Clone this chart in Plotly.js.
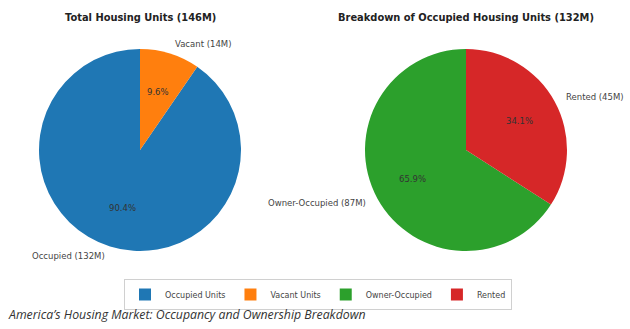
<!DOCTYPE html>
<html>
<head>
<meta charset="utf-8">
<script src="https://cdn.plot.ly/plotly-3.0.1.min.js"></script>
<style>html,body{margin:0;padding:0;background:#fff;}#chart{width:630px;height:329px;}</style>
</head>
<body>
<div id="chart"></div>
<script>
// Data
const totalTitle = "Total Housing Units (146M)";
const totalLegend = ["Occupied Units", "Vacant Units"];
const totalLabels = ["Occupied (132M)", "Vacant (14M)"];
const totalValues = [132, 14];
const totalColors = ["#1f77b4", "#ff7f0e"];

const occTitle = "Breakdown of Occupied Housing Units (132M)";
const occLegend = ["Owner-Occupied", "Rented"];
const occLabels = ["Owner-Occupied (87M)", "Rented (45M)"];
const occValues = [87, 45];
const occColors = ["#2ca02c", "#d62728"];

const caption = "America’s Housing Market: Occupancy and Ownership Breakdown";

// Layout geometry (pixels)
const W = 630, H = 329;
const R = 101;
const centers = [[140, 150], [466, 150]];

function px(x){ return x / W; }
function py(y){ return 1 - y / H; }

const traces = [];
const annotations = [];
const pies = [
  {legend: totalLegend, labels: totalLabels, values: totalValues, colors: totalColors, title: totalTitle},
  {legend: occLegend, labels: occLabels, values: occValues, colors: occColors, title: occTitle}
];

pies.forEach((p, i) => {
  const [cx, cy] = centers[i];
  const total = p.values.reduce((a, b) => a + b, 0);
  // Plotly's counterclockwise mode places the first slice clockwise of the
  // rotation angle; shift it so the first slice starts at 12 o'clock going
  // counterclockwise (like a start angle of 90 degrees).
  const rot = -(p.values[0] / total * 360);
  traces.push({
    type: "pie",
    labels: p.legend,
    values: p.values,
    marker: {colors: p.colors, line: {width: 0}},
    sort: false,
    direction: "counterclockwise",
    rotation: rot,
    textinfo: "none",
    hoverinfo: "label+percent",
    domain: {x: [px(cx - R), px(cx + R)], y: [py(cy + R), py(cy - R)]},
    showlegend: true
  });
  let start = 90;
  p.values.forEach((v, j) => {
    const span = v / total * 360;
    const mid = (start + span / 2) * Math.PI / 180;
    start += span;
    const c = Math.cos(mid), s = Math.sin(mid);
    annotations.push({
      xref: "paper", yref: "paper",
      x: px(cx + 1.1 * R * c), y: py(cy - 1.1 * R * s),
      text: p.labels[j], showarrow: false,
      xanchor: c >= 0 ? "left" : "right", yanchor: "middle",
      font: {family: "DejaVu Sans", size: 8.5, color: "#444"}
    });
    annotations.push({
      xref: "paper", yref: "paper",
      x: px(cx + 0.6 * R * c), y: py(cy - 0.6 * R * s),
      text: (v / total * 100).toFixed(1) + "%", showarrow: false,
      xanchor: "center", yanchor: "middle",
      font: {family: "DejaVu Sans", size: 8.5, color: "#333"}
    });
  });
  annotations.push({
    xref: "paper", yref: "paper",
    x: px(cx), y: py(18),
    text: "<b>" + p.title + "</b>", showarrow: false,
    xanchor: "center", yanchor: "middle",
    font: {family: "DejaVu Sans", size: 9.9, color: "#222"}
  });
});

annotations.push({
  xref: "paper", yref: "paper",
  x: px(6), y: py(314),
  text: "<i>" + caption + "</i>", showarrow: false,
  xanchor: "left", yanchor: "middle",
  font: {family: "Open Sans", size: 12.3, color: "#333"}
});

const layout = {
  width: W, height: H,
  margin: {l: 0, r: 0, t: 0, b: 0},
  paper_bgcolor: "#fff",
  showlegend: true,
  legend: {
    orientation: "h",
    x: px(318), xanchor: "center",
    y: py(279), yanchor: "top",
    bordercolor: "#d0d0d0", borderwidth: 1,
    font: {family: "DejaVu Sans", size: 8, color: "#444"},
    traceorder: "normal"
  },
  annotations: annotations
};

Plotly.newPlot("chart", traces, layout, {displayModeBar: false, staticPlot: true});
</script>
</body>
</html>
